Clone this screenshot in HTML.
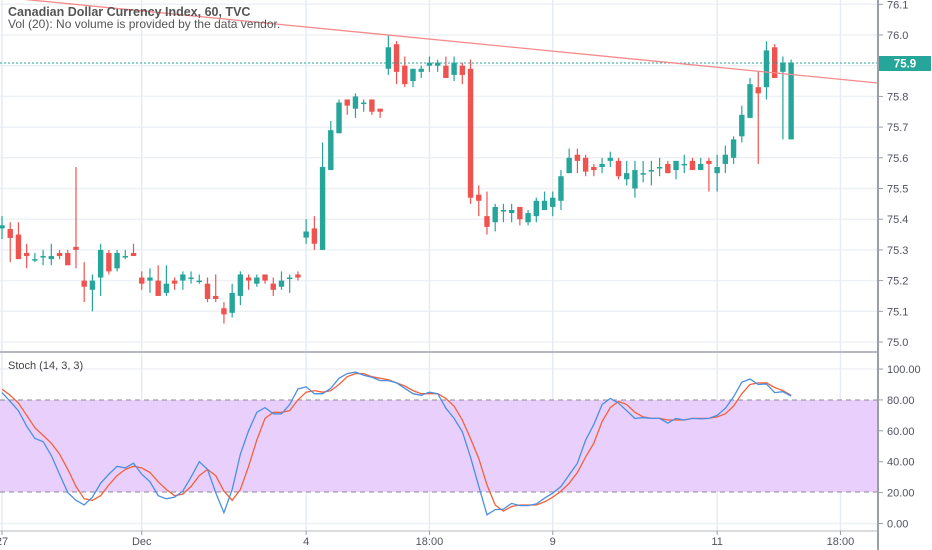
<!DOCTYPE html>
<html><head><meta charset="utf-8"><style>
html,body{margin:0;padding:0;background:#fff;}
svg{display:block;font-family:"Liberation Sans",sans-serif;}
</style></head><body>
<svg id="chart" width="932" height="550" viewBox="0 0 932 550" xmlns="http://www.w3.org/2000/svg">
<rect x="0" y="0" width="932" height="550" fill="#fff"/>
<g id="grid"></g>
<rect x="0" y="400" width="878" height="92" fill="#e9cffb"/>
<line x1="0" y1="400" x2="878" y2="400" stroke="#8a8a96" stroke-dasharray="5,4"/>
<line x1="0" y1="492" x2="878" y2="492" stroke="#8a8a96" stroke-dasharray="5,4"/>
<g id="candles"></g>
<line x1="0" y1="63" x2="878" y2="63" stroke="#26a69a" stroke-dasharray="2,2"/>
<line x1="0" y1="-3" x2="878" y2="83" stroke="#f58a8c" stroke-width="1.3"/>
<g id="stoch"></g>
<line x1="0" y1="352" x2="878" y2="352" stroke="#b5b8c0" stroke-width="2"/>
<line x1="0" y1="531" x2="878" y2="531" stroke="#b5b8c0" stroke-width="1"/>
<line x1="878" y1="0" x2="878" y2="550" stroke="#9a9ea6" stroke-width="2"/>
<g id="axes" font-size="11" fill="#50535e"></g>
<rect x="879" y="56" width="52" height="15" fill="#26a69a"/>
<text x="905" y="67.5" text-anchor="middle" font-size="11.5" font-weight="bold" fill="#fff">75.9</text>
<text x="8" y="16" font-size="12.5" font-weight="bold" fill="#555">Canadian Dollar Currency Index, 60, TVC</text>
<text x="8" y="28" font-size="12" fill="#555">Vol (20): No volume is provided by the data vendor.</text>
<text x="8" y="369" font-size="11" fill="#444">Stoch (14, 3, 3)</text>
</svg>
<script>
const opens=[75.37,75.368,75.35,75.29,75.27,75.28,75.27,75.29,75.29,75.31,75.20,75.17,75.21,75.29,75.24,75.28,75.29,75.21,75.20,75.20,75.16,75.20,75.20,75.21,75.20,75.19,75.15,75.11,75.095,75.15,75.21,75.19,75.22,75.19,75.18,75.21,75.22,75.34,75.37,75.30,75.56,75.68,75.79,75.76,75.78,75.79,75.76,75.89,75.97,75.90,75.85,75.88,75.90,75.90,75.90,75.87,75.90,75.89,75.48,75.41,75.39,75.43,75.42,75.44,75.39,75.41,75.43,75.44,75.46,75.55,75.61,75.60,75.57,75.57,75.59,75.59,75.53,75.50,75.55,75.56,75.57,75.58,75.56,75.58,75.59,75.56,75.59,75.55,75.58,75.60,75.67,75.73,75.83,75.83,75.96,75.88,75.66];
const closes=[75.38,75.339,75.27,75.28,75.27,75.28,75.28,75.28,75.25,75.30,75.18,75.20,75.30,75.23,75.29,75.28,75.28,75.19,75.21,75.15,75.19,75.19,75.22,75.21,75.20,75.14,75.14,75.09,75.16,75.22,75.20,75.21,75.20,75.17,75.20,75.21,75.21,75.36,75.32,75.57,75.69,75.78,75.77,75.80,75.78,75.75,75.75,75.96,75.88,75.84,75.89,75.89,75.91,75.91,75.86,75.91,75.87,75.47,75.46,75.375,75.44,75.43,75.43,75.40,75.42,75.46,75.46,75.47,75.54,75.60,75.59,75.555,75.56,75.58,75.60,75.54,75.55,75.56,75.55,75.56,75.57,75.55,75.59,75.58,75.56,75.58,75.58,75.57,75.61,75.66,75.74,75.84,75.81,75.95,75.86,75.91,75.91];
const highs=[75.41,75.39,75.39,75.32,75.29,75.30,75.32,75.30,75.30,75.57,75.26,75.22,75.32,75.30,75.30,75.30,75.32,75.23,75.24,75.25,75.25,75.21,75.23,75.23,75.22,75.21,75.22,75.13,75.19,75.23,75.22,75.22,75.22,75.21,75.23,75.22,75.23,75.40,75.41,75.65,75.72,75.79,75.79,75.81,75.79,75.79,75.76,76.00,75.98,75.93,75.89,75.90,75.93,75.92,75.93,75.93,75.91,75.92,75.51,75.49,75.45,75.45,75.45,75.44,75.43,75.47,75.49,75.49,75.56,75.63,75.63,75.61,75.58,75.60,75.62,75.60,75.59,75.59,75.59,75.59,75.60,75.59,75.59,75.61,75.60,75.60,75.60,75.61,75.64,75.67,75.77,75.86,75.88,75.98,75.97,75.93,75.92];
const lows=[75.335,75.26,75.27,75.24,75.26,75.25,75.25,75.27,75.25,75.24,75.13,75.10,75.15,75.22,75.23,75.27,75.28,75.17,75.16,75.15,75.15,75.17,75.17,75.19,75.19,75.13,75.13,75.06,75.08,75.12,75.17,75.18,75.19,75.15,75.17,75.16,75.20,75.32,75.30,75.30,75.56,75.68,75.74,75.73,75.75,75.74,75.73,75.87,75.84,75.83,75.83,75.86,75.88,75.88,75.86,75.85,75.84,75.45,75.41,75.35,75.36,75.39,75.39,75.38,75.38,75.39,75.43,75.41,75.43,75.55,75.55,75.54,75.54,75.55,75.57,75.53,75.51,75.47,75.52,75.51,75.54,75.55,75.53,75.55,75.56,75.56,75.49,75.49,75.55,75.58,75.65,75.73,75.58,75.79,75.86,75.66,75.66];
const stochK=[84.7,79,73,63,55,53,44,32,20,15,12,17,26,32,37,36,39,32,27,18,16,17,21,30,40,35,20,7,22,45,60,72,75,71,71,77,87,88.5,84,84,87.5,94,97,98,96,94.6,92.5,92.5,91,87.5,84,83,85,84,74.6,68,59.5,43,24,5.6,9,9.3,13,11.6,11.6,12.7,16.4,19.6,24,31.5,39,54,64,77,81,78,73,68,68.5,68,68,65,68,67,68,67.7,68,70,74.6,82,91.4,93.5,90,90.3,84.7,85.3,82.5];
const stochD=[87,83,78,70,62,57,52,45,35,24,16,15,18,25,31,35,37,36,33,27,22,18,19,24,31,35,31,21,15,22,37,54,68,72,72,73,80,85,86,85,86,90,95,97,97,95,94,93,91,89,86,84,84,84,81,76,67,55,42,25,12,8,11,12,12,12,14,17,21,26,33,43,52,66,75,79,77,72,69,68,68,67,67,67,68,68,68,69,71,76,84,90,91,91,88,86,83];
const priceTicks=[76.1,76.0,75.9,75.8,75.7,75.6,75.5,75.4,75.3,75.2,75.1,75.0];
const stochTicks=[100,80,60,40,20,0];
const timeLabels=["27","Dec","4","18:00","9","11","18:00"];
const timeIdx=[0,17,37,52,67,87,102];

const NS="http://www.w3.org/2000/svg";
function xOf(i){return 2+i*8.22;}
function yP(p){return 35+(76.0-p)*307;}
function yS(v){return 523.5-v*1.545;}
function mk(tag,attrs,parent){const e=document.createElementNS(NS,tag);for(const k in attrs)e.setAttribute(k,attrs[k]);parent.appendChild(e);return e;}
const grid=document.getElementById('grid'),axes=document.getElementById('axes'),cg=document.getElementById('candles'),sg=document.getElementById('stoch');
priceTicks.forEach(p=>{
  const y=yP(p);
  const g=mk('line',{x1:0,y1:y,x2:878,y2:y,stroke:'#edf1f5','stroke-width':1.5},grid);
  
  
  const t=mk('line',{x1:878,y1:y,x2:883,y2:y,stroke:'#9a9ea6'},axes);
  
  
  const tx=mk('text',{x:887,y:y+4},axes);tx.textContent=p.toFixed(1);
  
  
});
[60,40].forEach(v=>{
  const g=mk('line',{x1:0,y1:yS(v),x2:878,y2:yS(v),stroke:'#dcc6f0','stroke-width':1},grid);
  
  
});
[100,0].forEach(v=>{
  const g=mk('line',{x1:0,y1:yS(v),x2:878,y2:yS(v),stroke:'#edf1f5','stroke-width':1.5},grid);
  
  
});
stochTicks.forEach(v=>{
  const y=yS(v);
  const t=mk('line',{x1:878,y1:y,x2:883,y2:y,stroke:'#9a9ea6'},axes);
  
  
  const tx=mk('text',{x:887,y:y+4},axes);tx.textContent=v.toFixed(2);
  
  
});
timeLabels.forEach((l,k)=>{
  const x=xOf(timeIdx[k]);
  const g=mk('line',{x1:x,y1:0,x2:x,y2:531,stroke:'#e6ecf2','stroke-width':1.5},grid);
  
  
  const t=mk('line',{x1:x,y1:531,x2:x,y2:535,stroke:'#9a9ea6'},axes);
  
  
  const tx=mk('text',{x:x,y:545,'text-anchor':'middle'},axes);tx.textContent=l;
  
  
});
opens.forEach((o,i)=>{
  const c=closes[i],x=xOf(i),up=c>=o,col=up?'#26a69a':'#ef5350';
  const w=mk('line',{x1:x,y1:yP(highs[i]),x2:x,y2:yP(lows[i]),stroke:col,'stroke-width':1.2},cg);
  
  
  const top=yP(Math.max(o,c)),bot=yP(Math.min(o,c));
  const b=mk('rect',{x:x-2.7,y:top,width:5.4,height:Math.max(1.5,bot-top),fill:col},cg);
  
  
});
function line(arr,col,name){
  const pts=arr.map((v,i)=>xOf(i).toFixed(1)+','+yS(v).toFixed(1)).join(' ');
  const p=mk('polyline',{points:pts,fill:'none',stroke:col,'stroke-width':1.3},sg);
  
  
}
line(stochD,'#f4613a','stoch-d-line');
line(stochK,'#4a90e2','stoch-k-line');
</script>
</body></html>
